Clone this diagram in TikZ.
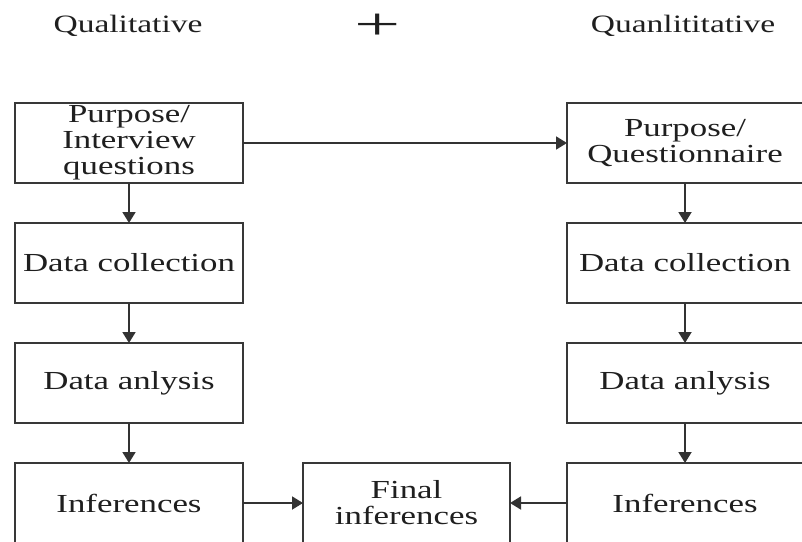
\documentclass[tikz,border=0pt]{standalone}
\usepackage{fontspec}
\setmainfont{Liberation Serif}[FakeStretch=1.34]
\usetikzlibrary{arrows.meta,positioning}

\tikzset{
  stage/.style={draw=black!78, line width=1.8pt, text=black!88, minimum height=80pt,
    inner sep=0pt, outer sep=0pt, align=center, font=\fontsize{26}{26}\selectfont},
  leftstage/.style={stage, minimum width=228pt},
  rightstage/.style={stage, minimum width=236pt},
  flow/.style={draw=black!80, line width=1.8pt, -{Triangle[length=11pt,width=13pt]}},
  heading/.style={font=\fontsize{25}{25}\selectfont, text=black!88, anchor=base, inner sep=0pt}
}

\begin{document}
\begin{tikzpicture}[x=1pt, y=-1pt, node distance=40pt]
  \useasboundingbox (0,0) rectangle (802,541);
  \clip (0,0) rectangle (802,541);

  % headings
  \node[heading] (qual) at (128,32) {Qualitative};
  \node[heading, font=\fontsize{45}{45}\selectfont] (plus) at (378,39.5) {\scalebox{1.36}[1]{+}};
  \node[heading] (quan) at (683,32) {Quanlititative};

  % qualitative column
  \node[leftstage] (purpl) at (129,143) {Purpose/\\Interview\\questions};
  \node[leftstage, below=of purpl] (collectl) {Data collection};
  \node[leftstage, below=of collectl] (analysl) {Data anlysis};
  \node[leftstage, below=of analysl] (inferl) {Inferences};

  % quantitative column
  \node[rightstage] (purpr) at (685,143) {Purpose/\\Questionnaire};
  \node[rightstage, below=of purpr] (collectr) {Data collection};
  \node[rightstage, below=of collectr] (analysr) {Data anlysis};
  \node[rightstage, below=of analysr] (inferr) {Inferences};

  \node[stage, minimum width=207pt] (final) at (406.5,503) {Final\\inferences};

  % connectors
  \draw[flow] (purpl) -- (collectl);
  \draw[flow] (collectl) -- (analysl);
  \draw[flow] (analysl) -- (inferl);
  \draw[flow] (purpr) -- (collectr);
  \draw[flow] (collectr) -- (analysr);
  \draw[flow] (analysr) -- (inferr);
  \draw[flow] (purpl.east) -- (purpr.west);
  \draw[flow] (inferl) -- (final);
  \draw[flow] (inferr) -- (final);
\end{tikzpicture}
\end{document}
